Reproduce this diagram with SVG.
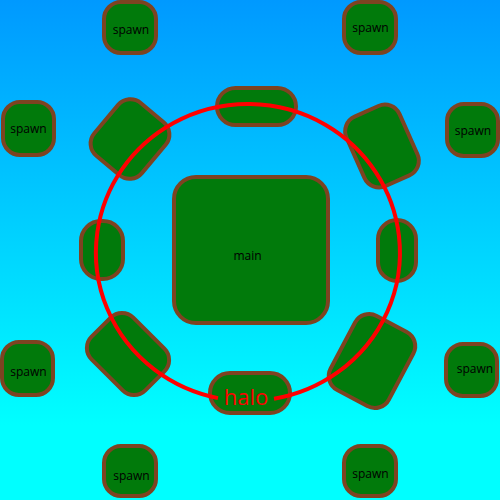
<svg xmlns="http://www.w3.org/2000/svg" width="500" height="500" viewBox="0 0 500 500">
  <defs>
    <linearGradient id="bg" x1="0" y1="0" x2="0" y2="1">
      <stop offset="0" stop-color="#0099ff"/>
      <stop offset="0.85" stop-color="#00ffff"/>
      <stop offset="1" stop-color="#00ffff"/>
    </linearGradient>
  </defs>
  <style>
    .n { fill: #017a0b; stroke: #7d4321; stroke-width: 4; }
    .t { font-family: "Open Sans", "Noto Sans", sans-serif; font-size: 12px; fill: #000; text-anchor: middle; }
    .halo { fill: none; stroke: #ff0000; stroke-width: 4; }
    .ht { font-family: "Open Sans", "Noto Sans", sans-serif; font-size: 22px; fill: #ff0000; text-anchor: middle; }
  </style>
  <rect x="0" y="0" width="500" height="500" fill="url(#bg)"/>

  <g id="spawn-tl"><rect class="n" x="104" y="2" width="52" height="51" rx="17"/><text class="t" x="131" y="34">spawn</text></g>
  <g id="spawn-tr"><rect class="n" x="344" y="2" width="52" height="51" rx="17"/><text class="t" x="370.5" y="32">spawn</text></g>
  <g id="spawn-lu"><rect class="n" x="3" y="102" width="51" height="53" rx="17"/><text class="t" x="28.5" y="133">spawn</text></g>
  <g id="spawn-ru"><rect class="n" x="447" y="104" width="51" height="52" rx="17"/><text class="t" x="473" y="135">spawn</text></g>
  <g id="spawn-ll"><rect class="n" x="2" y="342" width="51" height="53" rx="17"/><text class="t" x="28.5" y="376">spawn</text></g>
  <g id="spawn-rl"><rect class="n" x="446" y="344" width="51" height="52" rx="17"/><text class="t" x="475" y="373">spawn</text></g>
  <g id="spawn-bl"><rect class="n" x="104" y="446" width="52" height="50" rx="17"/><text class="t" x="131.5" y="480">spawn</text></g>
  <g id="spawn-br"><rect class="n" x="344" y="446" width="52" height="50" rx="17"/><text class="t" x="370.5" y="478">spawn</text></g>

  <g id="main"><rect class="n" x="174" y="177" width="154" height="146" rx="22"/><text class="t" x="247.5" y="260">main</text></g>

  <g id="ring-top"><rect class="n" x="217" y="88" width="79" height="37" rx="18.5"/></g>
  <g id="ring-left"><rect class="n" x="81" y="221" width="42" height="58" rx="20"/></g>
  <g id="ring-right"><rect class="n" x="378" y="220" width="38" height="61" rx="19"/></g>
  <g id="ring-tl"><rect class="n" x="-31" y="-34.5" width="62" height="69" rx="16" transform="translate(130 139) rotate(40)"/></g>
  <g id="ring-tr"><rect class="n" x="-29" y="-38" width="58" height="76" rx="16" transform="translate(382 146) rotate(-24)"/></g>
  <g id="ring-bl"><rect class="n" x="-38" y="-29.5" width="76" height="59" rx="16" transform="translate(128 354) rotate(45)"/></g>
  <g id="ring-br"><rect class="n" x="-33" y="-42" width="66" height="84" rx="16" transform="translate(372 361) rotate(28)"/></g>
  <g id="ring-bottom"><rect class="n" x="210" y="373" width="80" height="40" rx="20"/></g>

  <g id="connectors">
    <path id="halo-ring" class="halo" d="M274,398.8 A152,148.5 0 1 0 218,398.1"/>
    <text class="ht" x="246" y="405">halo</text>
  </g>
</svg>
